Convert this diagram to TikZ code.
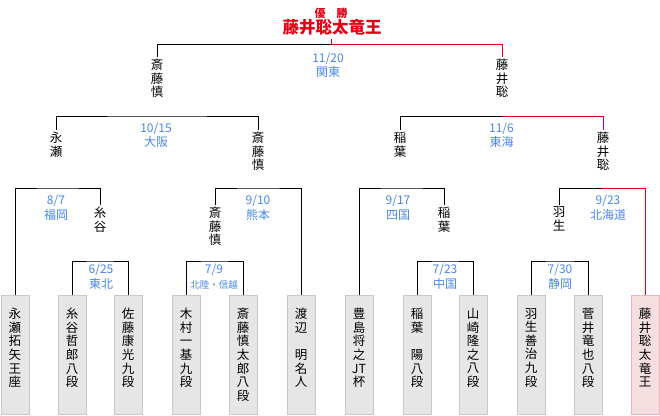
\documentclass[tikz,border=0pt]{standalone}
\usepackage{fontspec}
\setmainfont{Noto Sans CJK JP}
\definecolor{winred}{RGB}{225,0,20}
\definecolor{dateblue}{RGB}{74,134,232}
\definecolor{boxfill}{RGB}{230,230,230}
\definecolor{boxborder}{RGB}{200,200,200}
\definecolor{pinkfill}{RGB}{245,222,224}
\definecolor{pinkborder}{RGB}{225,185,190}
\begin{document}
\begin{tikzpicture}[x=1pt,y=-1pt,
  line/.style={draw=black, line width=0.9pt},
  redline/.style={draw=winred, line width=0.9pt},
  pname/.style={anchor=north, inner sep=0pt, outer sep=2pt, align=center, font=\fontsize{12.5}{13.6}\selectfont},
  datelbl/.style={text=dateblue, align=center, inner sep=0pt, font=\fontsize{12}{14.5}\selectfont},
  player/.style={draw=boxborder, fill=boxfill, line width=0.9pt, minimum width=28pt, minimum height=119pt, anchor=north, inner sep=0pt},
  champbox/.style={player, draw=pinkborder, fill=pinkfill},
  boxtext/.style={anchor=north, inner sep=0pt, align=center, font=\fontsize{12.5}{13.6}\selectfont}
]
\useasboundingbox (0,0) rectangle (660,415);

% title
\node[text=winred, font=\fontsize{11}{12}\bfseries\selectfont, inner sep=0pt] (yusho) at (331,13) {優　勝};
\node[text=winred, font=\fontsize{16.5}{18}\bfseries\selectfont, inner sep=0pt] (champ) at (332,27) {藤井聡太竜王};

% boxes
\foreach \n/\x in {1/15,2/72,3/128,4/186,5/243,6/301,7/359,8/417,9/473,10/531,11/588}
  \node[player] (b\n) at (\x,295) {};
\node[champbox] (b12) at (645,295) {};

\node[boxtext] (t1) at (15,308) {永\\瀬\\拓\\矢\\王\\座};
\node[boxtext] (t2) at (72,308) {糸\\谷\\哲\\郎\\八\\段};
\node[boxtext] (t3) at (128,308) {佐\\藤\\康\\光\\九\\段};
\node[boxtext] (t4) at (186,308) {木\\村\\一\\基\\九\\段};
\node[boxtext] (t5) at (243,308) {斎\\藤\\慎\\太\\郎\\八\\段};
\node[boxtext] (t6) at (301,308) {渡\\辺\\　\\明\\名\\人};
\node[boxtext] (t7) at (359,308) {豊\\島\\将\\之\\JT\\杯};
\node[boxtext] (t8) at (417,308) {稲\\葉\\　\\陽\\八\\段};
\node[boxtext] (t9) at (473,308) {山\\崎\\隆\\之\\八\\段};
\node[boxtext] (t10) at (531,308) {羽\\生\\善\\治\\九\\段};
\node[boxtext] (t11) at (588,308) {菅\\井\\竜\\也\\八\\段};
\node[boxtext] (t12) at (645,308) {藤\\井\\聡\\太\\竜\\王};

% names
\node[pname] (n1L) at (157,57) {斎\\藤\\慎};
\node[pname] (n1R) at (502,57) {藤\\井\\聡};
\node[pname] (n2a) at (56,130) {永\\瀬};
\node[pname] (n2b) at (258,130) {斎\\藤\\慎};
\node[pname] (n2c) at (400,130) {稲\\葉};
\node[pname] (n2d) at (603,130) {藤\\井\\聡};
\node[pname] (n3a) at (100,205) {糸\\谷};
\node[pname] (n3b) at (215,205) {斎\\藤\\慎};
\node[pname] (n3c) at (444,205) {稲\\葉};
\node[pname] (n3d) at (559,205) {羽\\生};

% bracket points
\coordinate (fin) at (331,44);
\coordinate (fintop) at (331,39);
\coordinate (s1) at (157,116);
\coordinate (s2) at (501.5,116);
\coordinate (q1) at (57.5,188);
\coordinate (q2) at (258,188);
\coordinate (q3) at (401.5,188);
\coordinate (q4) at (602,188);
\coordinate (r1) at (100,261);
\coordinate (r2) at (214.5,261);
\coordinate (r3) at (445,261);
\coordinate (r4) at (560,261);

% final
\draw[line] (n1L.north) |- (fin);
\draw[redline] (fin) -| (n1R.north);
\draw[redline] (fin) -- (fintop);
% semifinals
\draw[line] (n2a.north) |- (s1) -| (n2b.north);
\draw[line] (n2c.north) |- (s2);
\draw[redline] (s2) -| (n2d.north);
% quarterfinals
\draw[line] (b1.north) |- (q1) -| (n3a.north);
\draw[line] (n3b.north) |- (q2) -| (b6.north);
\draw[line] (b7.north) |- (q3) -| (n3c.north);
\draw[line] (n3d.north) |- (q4);
\draw[redline] (q4) -| (b12.north);
% first round
\draw[line] (b2.north) |- (r1) -| (b3.north);
\draw[line] (b4.north) |- (r2) -| (b5.north);
\draw[line] (b8.north) |- (r3) -| (b9.north);
\draw[line] (b10.north) |- (r4) -| (b11.north);

% dates
\node[datelbl] (d1) at (328,65) {11/20\\関東};
\node[datelbl] (d2) at (156,135) {10/15\\大阪};
\node[datelbl] (d3) at (501.5,135) {11/6\\東海};
\node[datelbl] (d4) at (56,207.5) {8/7\\福岡};
\node[datelbl] (d5) at (258,207.5) {9/10\\熊本};
\node[datelbl] (d6) at (398,207.5) {9/17\\四国};
\node[datelbl] (d7) at (608,207.5) {9/23\\北海道};
\node[datelbl] (d8) at (101,276.5) {6/25\\東北};
\node[datelbl] (d9) at (214,276.5) {7/9\\{\fontsize{9.5}{10}\selectfont 北陸・信越}};
\node[datelbl] (d10) at (445,276.5) {7/23\\中国};
\node[datelbl] (d11) at (560,276.5) {7/30\\静岡};
\end{tikzpicture}
\end{document}
